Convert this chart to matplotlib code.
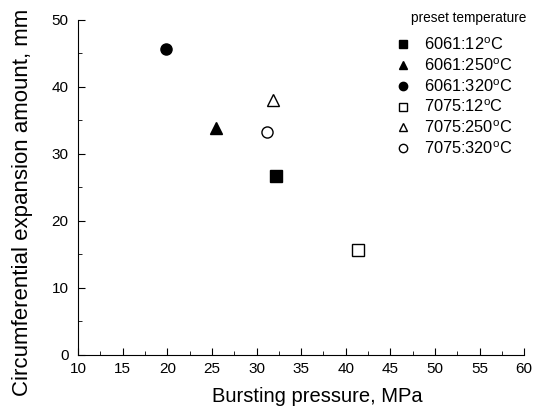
import matplotlib
matplotlib.use("Agg")
import matplotlib.pyplot as plt
from matplotlib.ticker import MultipleLocator

plt.rcParams['font.family'] = ['Liberation Sans', 'DejaVu Sans']

labels = ["6061:12$^\\mathregular{o}$C", "6061:250$^\\mathregular{o}$C", "6061:320$^\\mathregular{o}$C",
          "7075:12$^\\mathregular{o}$C", "7075:250$^\\mathregular{o}$C", "7075:320$^\\mathregular{o}$C"]
pressure = [32.2, 25.5, 19.9, 41.4, 31.8, 31.2]
expansion = [26.7, 33.8, 45.6, 15.6, 38.0, 33.3]
markers = ["s", "^", "o", "s", "^", "o"]
filled = [True, True, True, False, False, False]

fig = plt.figure(figsize=(5.5, 4.16), dpi=100)
ax = fig.add_axes([0.142, 0.147, 0.811, 0.805])

for lab, x, y, m, f in zip(labels, pressure, expansion, markers, filled):
    ax.plot([x], [y], linestyle='none', marker=m, markersize=8,
            markerfacecolor='black' if f else 'white', markeredgecolor='black',
            markeredgewidth=1.0, label=lab)

ax.set_xlim(10, 60)
ax.set_ylim(0, 50)
ax.xaxis.set_major_locator(MultipleLocator(5))
ax.xaxis.set_minor_locator(MultipleLocator(2.5))
ax.yaxis.set_major_locator(MultipleLocator(10))
ax.yaxis.set_minor_locator(MultipleLocator(5))
ax.tick_params(which='both', direction='in', labelsize=11, top=False, right=False)
ax.tick_params(which='major', length=5)
ax.tick_params(which='minor', length=3)
ax.tick_params(axis='y', which='major', pad=7)
ax.tick_params(axis='x', which='major', pad=5)
ax.spines['top'].set_visible(False)
ax.spines['right'].set_visible(False)
ax.set_xlabel("Bursting pressure, MPa", fontsize=14.5)
ax.xaxis.set_label_coords(0.536, -0.095)
ax.set_ylabel("Circumferential expansion amount, mm", fontsize=16)
ax.yaxis.set_label_coords(-0.1, 0.454)

ax.text(1.005, 1.005, "preset temperature", transform=ax.transAxes, ha='right', va='center',
        fontsize=9.8)
leg = ax.legend(frameon=False, fontsize=11.8,
                loc='upper right', bbox_to_anchor=(0.988, 0.97), handletextpad=0.5,
                handlelength=1.5, labelspacing=0.25, markerscale=0.75, borderaxespad=0.0)

fig.savefig("out.png", dpi=100)
